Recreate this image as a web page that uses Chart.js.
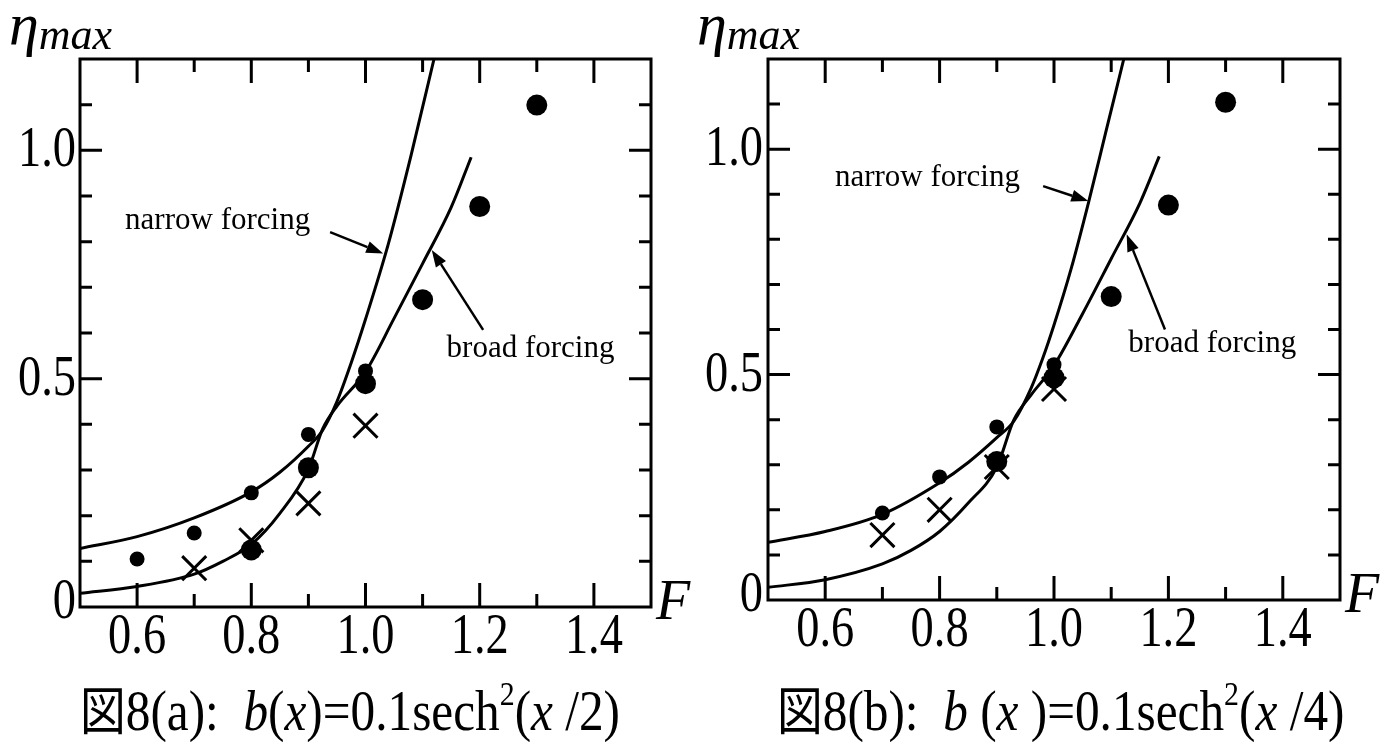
<!DOCTYPE html>
<html>
<head>
<meta charset="utf-8">
<title>図8 eta_max vs F</title>
<script src="https://cdn.jsdelivr.net/npm/chart.js@4.4.0/dist/chart.umd.min.js"></script>
<style>
  html, body { margin: 0; padding: 0; background: #fff; }
  #wrap { position: relative; width: 1391px; height: 742px; }
  .panel { position: absolute; top: 0; height: 742px; }
  #panelA { left: 0; width: 695px; }
  #panelB { left: 695px; width: 696px; }
</style>
</head>
<body>
<div id="wrap">
  <div class="panel" id="panelA"><canvas id="chartA"></canvas></div>
  <div class="panel" id="panelB"><canvas id="chartB"></canvas></div>
</div>
<script>
"use strict";

/* (a) b(x)=0.1sech^2(x/2) */
var narrowA_F   = [0.5, 0.6, 0.7, 0.8, 0.85, 0.9, 0.925, 0.95, 0.975, 1.0, 1.04, 1.08, 1.12];
var narrowA_eta = [0.128, 0.154, 0.195, 0.252, 0.295, 0.352, 0.387, 0.45, 0.535, 0.63, 0.795, 0.99, 1.2];
var broadA_F    = [0.5, 0.6, 0.7, 0.75, 0.8, 0.85, 0.9, 0.925, 0.95, 1.0, 1.05, 1.1, 1.15, 1.185];
var broadA_eta  = [0.03, 0.045, 0.072, 0.1, 0.137, 0.205, 0.302, 0.39, 0.44, 0.515, 0.632, 0.752, 0.875, 0.985];
var smallA_F    = [0.6, 0.7, 0.8, 0.9, 1.0];
var smallA_eta  = [0.105, 0.162, 0.25, 0.378, 0.517];
var bigA_F      = [0.8, 0.9, 1.0, 1.1, 1.2, 1.3];
var bigA_eta    = [0.125, 0.305, 0.489, 0.673, 0.877, 1.099];
var crossA_F    = [0.7, 0.8, 0.9, 1.0];
var crossA_eta  = [0.085, 0.146, 0.227, 0.397];

/* (b) b(x)=0.1sech^2(x/4) */
var narrowB_F   = [0.5, 0.6, 0.7, 0.8, 0.85, 0.9, 0.93, 0.96, 0.98, 1.0, 1.03, 1.06, 1.09, 1.122];
var narrowB_eta = [0.128, 0.152, 0.19, 0.26, 0.305, 0.36, 0.397, 0.47, 0.535, 0.61, 0.735, 0.88, 1.035, 1.2];
var broadB_F    = [0.5, 0.6, 0.7, 0.75, 0.8, 0.85, 0.9, 0.93, 0.96, 1.0, 1.05, 1.1, 1.15, 1.184];
var broadB_eta  = [0.028, 0.045, 0.08, 0.11, 0.152, 0.215, 0.295, 0.4, 0.455, 0.52, 0.635, 0.757, 0.88, 0.984];
var smallB_F    = [0.7, 0.8, 0.9, 1.0];
var smallB_eta  = [0.193, 0.273, 0.384, 0.522];
var bigB_F      = [0.9, 1.0, 1.1, 1.2, 1.3];
var bigB_eta    = [0.307, 0.493, 0.673, 0.876, 1.104];
var crossB_F    = [0.7, 0.8, 0.9, 1.0];
var crossB_eta  = [0.144, 0.2, 0.295, 0.468];

/* tick labels */
var xLabelVals = [0.6, 0.8, 1.0, 1.2, 1.4];
var xLabels    = ['0.6', '0.8', '1.0', '1.2', '1.4'];
var yLabelVals = [0, 0.5, 1.0];
var yLabels    = ['0', '0.5', '1.0'];

var SERIF = '"Liberation Serif", "Times New Roman", serif';

function pts(xs, ys) {
    return xs.map(function(x, i) { return { x: x, y: ys[i] }; });
}

function drawRuns(ctx, x, y, runs, sx) {
    ctx.save();
    ctx.translate(x, y);
    ctx.scale(sx, 1);
    ctx.textAlign = 'left';
    ctx.textBaseline = 'alphabetic';
    var cx = 0;
    runs.forEach(function(r) {
        ctx.font = r.font;
        ctx.fillText(r.t, cx, r.dy || 0);
        cx += ctx.measureText(r.t).width;
    });
    ctx.restore();
}

function arrow(ctx, x0, y0, x1, y1) {
    var ang = Math.atan2(y1 - y0, x1 - x0), L = 17, W = 6;
    var bx = x1 - L * Math.cos(ang), by = y1 - L * Math.sin(ang);
    ctx.beginPath();
    ctx.moveTo(x0, y0);
    ctx.lineTo(bx, by);
    ctx.stroke();
    ctx.beginPath();
    ctx.moveTo(x1, y1);
    ctx.lineTo(bx + W * Math.sin(ang), by - W * Math.cos(ang));
    ctx.lineTo(bx - W * Math.sin(ang), by + W * Math.cos(ang));
    ctx.closePath();
    ctx.fill();
}

var figPlugin = {
    id: 'figPlugin',
    afterDatasetsDraw: function(chart, args, o) {
        var ctx = chart.ctx, xs = chart.scales.x, ys = chart.scales.y;
        ctx.save();
        ctx.fillStyle = '#000';
        ctx.strokeStyle = '#000';
        ctx.lineWidth = 2.5;
        ctx.font = '31px ' + SERIF;
        ctx.textBaseline = 'alphabetic';
        ctx.textAlign = 'left';
        o.notes.forEach(function(n) {
            ctx.fillText(n.text, xs.getPixelForValue(n.tx), ys.getPixelForValue(n.ty));
            arrow(ctx, xs.getPixelForValue(n.ax0), ys.getPixelForValue(n.ay0),
                       xs.getPixelForValue(n.ax1), ys.getPixelForValue(n.ay1));
        });
        ctx.restore();
    },
    afterDraw: function(chart, args, o) {
        var ctx = chart.ctx, a = chart.chartArea, xs = chart.scales.x, ys = chart.scales.y;
        ctx.save();
        ctx.strokeStyle = '#000';
        ctx.fillStyle = '#000';
        ctx.lineWidth = 3;
        ctx.lineCap = 'butt';
        ctx.strokeRect(a.left, a.top, a.right - a.left, a.bottom - a.top);

        ctx.beginPath();
        ys.ticks.forEach(function(t) {
            var k = Math.round(t.value * 10);
            if (k <= 0 || k >= 12) return;
            var y = ys.getPixelForValue(k / 10);
            var len = (k % 5 === 0) ? 22 : 12;
            ctx.moveTo(a.left, y);  ctx.lineTo(a.left + len, y);
            ctx.moveTo(a.right, y); ctx.lineTo(a.right - len, y);
        });
        xs.ticks.forEach(function(t) {
            var k = Math.round(t.value * 10);
            if (k <= 5 || k >= 15) return;
            var x = xs.getPixelForValue(k / 10);
            var len = (k % 2 === 0) ? 24 : 13;
            ctx.moveTo(x, a.top);    ctx.lineTo(x, a.top + len);
            ctx.moveTo(x, a.bottom); ctx.lineTo(x, a.bottom - len);
        });
        ctx.stroke();

        // tick labels, condensed serif
        ctx.font = '58px ' + SERIF;
        ctx.textBaseline = 'alphabetic';
        xLabelVals.forEach(function(v, i) {
            ctx.save();
            ctx.translate(xs.getPixelForValue(v), a.bottom + o.xLabDy);
            ctx.scale(0.8, 1);
            ctx.textAlign = 'center';
            ctx.fillText(xLabels[i], 0, 0);
            ctx.restore();
        });
        yLabelVals.forEach(function(v, i) {
            ctx.save();
            ctx.translate(a.left - o.yLabGap, ys.getPixelForValue(v) + (v === 0 ? 11 : 16));
            ctx.scale(0.8, 1);
            ctx.textAlign = 'right';
            ctx.fillText(yLabels[i], 0, 0);
            ctx.restore();
        });

        // axis names
        drawRuns(ctx, a.left - 71, 44, [
            { t: '\u03b7', font: 'italic 60px ' + SERIF },
            { t: 'max', font: 'italic 44px ' + SERIF, dy: 5 }
        ], 1.0);
        drawRuns(ctx, a.right + 5, a.bottom + 12, [
            { t: 'F', font: 'italic 56px ' + SERIF }
        ], 1.0);

        // caption
        drawRuns(ctx, o.capX, 730, o.caption, 0.88);
        ctx.restore();
    }
};

function capRuns(tag, bSp, xSp, div) {
    var s = '56px ' + SERIF, it = 'italic 56px ' + SERIF;
    return [
        { t: '\u56f3', font: '52px "Noto Sans CJK JP"' },
        { t: '8(' + tag + '):  ', font: s },
        { t: 'b', font: it },
        { t: bSp + '(', font: s },
        { t: 'x', font: it },
        { t: xSp + ')=0.1sech', font: s },
        { t: '2', font: '34px ' + SERIF, dy: -25 },
        { t: '(', font: s },
        { t: 'x', font: it },
        { t: ' /' + div + ')', font: s }
    ];
}

function makePanel(id, d, lay) {
    var ctx = document.getElementById(id).getContext('2d');
    return new Chart(ctx, {
        type: 'scatter',
        data: {
            datasets: [
                { label: 'small dots', data: pts(d.smallF, d.smallEta), pointStyle: 'circle',
                  pointRadius: 7.5, backgroundColor: '#000', borderColor: '#000', borderWidth: 0 },
                { label: 'large dots', data: pts(d.bigF, d.bigEta), pointStyle: 'circle',
                  pointRadius: 10.5, backgroundColor: '#000', borderColor: '#000', borderWidth: 0 },
                { label: 'crosses', data: pts(d.crossF, d.crossEta), pointStyle: 'crossRot',
                  pointRadius: 17, borderColor: '#000', borderWidth: 3 },
                { label: 'narrow forcing', data: pts(d.narrowF, d.narrowEta), showLine: true,
                  pointRadius: 0, borderColor: '#000', borderWidth: 3,
                  cubicInterpolationMode: 'monotone' },
                { label: 'broad forcing', data: pts(d.broadF, d.broadEta), showLine: true,
                  pointRadius: 0, borderColor: '#000', borderWidth: 3,
                  cubicInterpolationMode: 'monotone' }
            ]
        },
        options: {
            responsive: true,
            maintainAspectRatio: false,
            animation: false,
            devicePixelRatio: 1,
            layout: { padding: { top: 59, right: lay.padR, bottom: 0, left: 0 } },
            plugins: {
                legend: { display: false },
                tooltip: { enabled: false },
                figPlugin: lay
            },
            scales: {
                x: {
                    type: 'linear', min: 0.5, max: 1.5,
                    ticks: { stepSize: 0.1, display: false },
                    grid: { display: false }, border: { display: false },
                    afterFit: function(s) { s.height = lay.axisH; }
                },
                y: {
                    type: 'linear', min: 0, max: 1.2,
                    ticks: { stepSize: 0.1, display: false },
                    grid: { display: false }, border: { display: false },
                    afterFit: function(s) { s.width = lay.axisW; }
                }
            }
        },
        plugins: [figPlugin]
    });
}

makePanel('chartA', {
    narrowF: narrowA_F, narrowEta: narrowA_eta, broadF: broadA_F, broadEta: broadA_eta,
    smallF: smallA_F, smallEta: smallA_eta, bigF: bigA_F, bigEta: bigA_eta,
    crossF: crossA_F, crossEta: crossA_eta
}, {
    axisW: 80, axisH: 135, padR: 44, xLabDy: 46, yLabGap: 4, capX: 80,
    caption: capRuns('a', '', '', '2'),
    notes: [
        { text: 'narrow forcing', tx: 0.579, ty: 0.828, ax0: 0.938, ay0: 0.821, ax1: 1.031, ay1: 0.774 },
        { text: 'broad forcing',  tx: 1.142, ty: 0.548, ax0: 1.206, ay0: 0.607, ax1: 1.116, ay1: 0.782 }
    ]
});

makePanel('chartB', {
    narrowF: narrowB_F, narrowEta: narrowB_eta, broadF: broadB_F, broadEta: broadB_eta,
    smallF: smallB_F, smallEta: smallB_eta, bigF: bigB_F, bigEta: bigB_eta,
    crossF: crossB_F, crossEta: crossB_eta
}, {
    axisW: 73, axisH: 142, padR: 51, xLabDy: 46, yLabGap: 5, capX: 82,
    caption: capRuns('b', ' ', ' ', '4'),
    notes: [
        { text: 'narrow forcing', tx: 0.617, ty: 0.918, ax0: 0.981, ay0: 0.918, ax1: 1.06, ay1: 0.885 },
        { text: 'broad forcing',  tx: 1.130, ty: 0.549, ax0: 1.194, ay0: 0.600, ax1: 1.127, ay1: 0.811 }
    ]
});
</script>
</body>
</html>
